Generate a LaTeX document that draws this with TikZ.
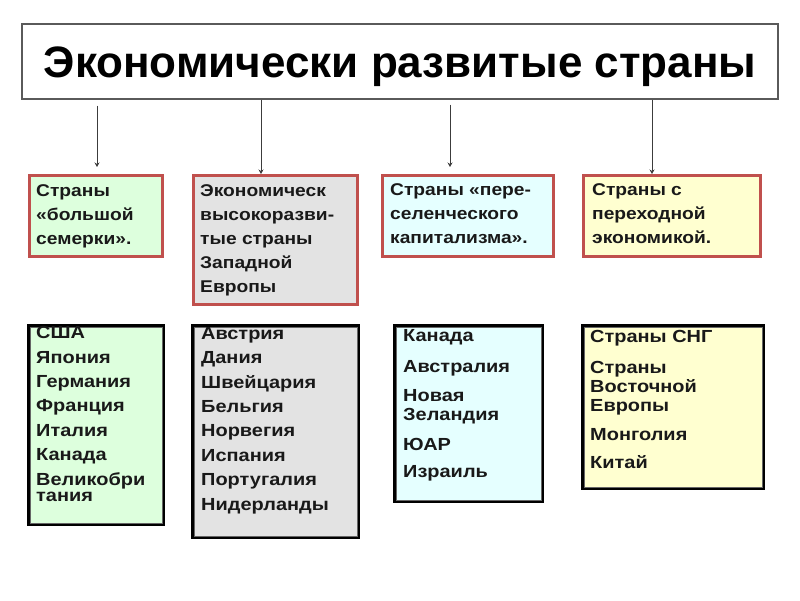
\documentclass[tikz,border=0pt]{standalone}
\usepackage{fontspec}
\setmainfont{Liberation Sans}
\newfontfamily\widefont[FakeStretch=1.13]{Liberation Sans}
\newfontfamily\widerfont[FakeStretch=1.14]{Liberation Sans}
\usetikzlibrary{arrows.meta}
\definecolor{redb}{RGB}{192,80,77}
\definecolor{fgreen}{RGB}{221,255,221}
\definecolor{fgray}{RGB}{227,227,227}
\definecolor{fcyan}{RGB}{229,255,255}
\definecolor{fyellow}{RGB}{255,255,208}
\definecolor{tbord}{RGB}{90,90,90}
\definecolor{arrc}{RGB}{60,60,60}
\definecolor{txtc}{RGB}{25,25,25}
\begin{document}
\begin{tikzpicture}[x=1pt,y=-1pt,
  titlebox/.style={draw=tbord, line width=1.3pt, fill=white, inner sep=0pt,
    minimum width=756pt, minimum height=75pt, text height=32pt, text depth=0pt,
    font=\fontsize{44}{50}\selectfont\bfseries},
  midbox/.style={draw=redb, line width=3pt, anchor=north west, inner sep=0pt},
  lowbox/.style={draw=black, line width=3pt, anchor=north west, inner sep=0pt},
  inline/.style={draw=gray!80!black, line width=1pt},
  txt/.style={anchor=base west, align=left, inner sep=0pt, text=txtc,
    font=\widefont\fontsize{17}{24}\selectfont\bfseries},
  lowtxt/.style={txt, font=\widerfont\fontsize{17.5}{24.4}\selectfont\bfseries},
  arr/.style={draw=arrc, line width=0.9pt, -{Stealth[length=4.5pt,width=5pt]}}
]
\useasboundingbox (0,0) rectangle (800,600);

% title
\node[titlebox] (title) at (400,61.5) {Экономически развитые страны};

% middle boxes
\node[midbox, fill=fgreen, minimum width=133pt, minimum height=81pt] (mA) at (28,174) {};
\node[midbox, fill=fgray, minimum width=164pt, minimum height=129pt] (mB) at (192,174) {};
\node[midbox, fill=fcyan, minimum width=171pt, minimum height=81pt] (mC) at (381,174) {};
\node[midbox, fill=fyellow, minimum width=177pt, minimum height=81pt] (mD) at (582,174) {};

% (base anchor = baseline of the last line)
\node[txt] (tA) at (36,244) {Страны\\«большой\\семерки».};
\node[txt] (tB) at (200,292) {Экономическ\\высокоразви-\\тые страны\\Западной\\Европы};
\node[txt] (tC) at (390,243) {Страны «пере-\\селенческого\\капитализма».};
\node[txt] (tD) at (592,243) {Страны с\\переходной\\экономикой.};

% arrows
\coordinate (x1) at (97,0);
\coordinate (x2) at (261,0);
\coordinate (x3) at (450,0);
\coordinate (x4) at (652,0);
\draw[arr, shorten <=6pt, shorten >=7pt] (title.south -| x1) -- (x1 |- mA.north);
\draw[arr] (title.south -| x2) -- (x2 |- mB.north);
\draw[arr, shorten <=5pt, shorten >=7pt] (title.south -| x3) -- (x3 |- mC.north);
\draw[arr] (title.south -| x4) -- (x4 |- mD.north);

% lower boxes
\node[lowbox, fill=fgreen, minimum width=135pt, minimum height=199pt] (lA) at (27,324) {};
\node[lowbox, fill=fgray, minimum width=166pt, minimum height=212pt] (lB) at (191,324) {};
\node[lowbox, fill=fcyan, minimum width=148pt, minimum height=176pt] (lC) at (393,324) {};
\node[lowbox, fill=fyellow, minimum width=181pt, minimum height=163pt] (lD) at (581,324) {};
\foreach \b in {lA,lB,lC,lD}{
  \draw[inline] ([shift={(3,3)}]\b.north west) rectangle ([shift={(-3,-3)}]\b.south east);
}

\node[lowtxt] (uA) at (36,501) {США\\Япония\\Германия\\Франция\\Италия\\Канада\\Великобри\\[-8.5pt]тания};
\node[lowtxt] (uB) at (201,510) {Австрия\\Дания\\Швейцария\\Бельгия\\Норвегия\\Испания\\Португалия\\Нидерланды};
\node[lowtxt, font=\widerfont\fontsize{17.5}{18.5}\selectfont\bfseries] (uC) at (403,477)
  {Канада\\[12.5pt]Австралия\\[10.5pt]Новая\\Зеландия\\[11.5pt]ЮАР\\[8.5pt]Израиль};
\node[lowtxt, font=\widerfont\fontsize{17.5}{19}\selectfont\bfseries] (uD) at (590,468)
  {Страны СНГ\\[12pt]Страны\\Восточной\\Европы\\[10pt]Монголия\\[9pt]Китай};
\end{tikzpicture}
\end{document}
